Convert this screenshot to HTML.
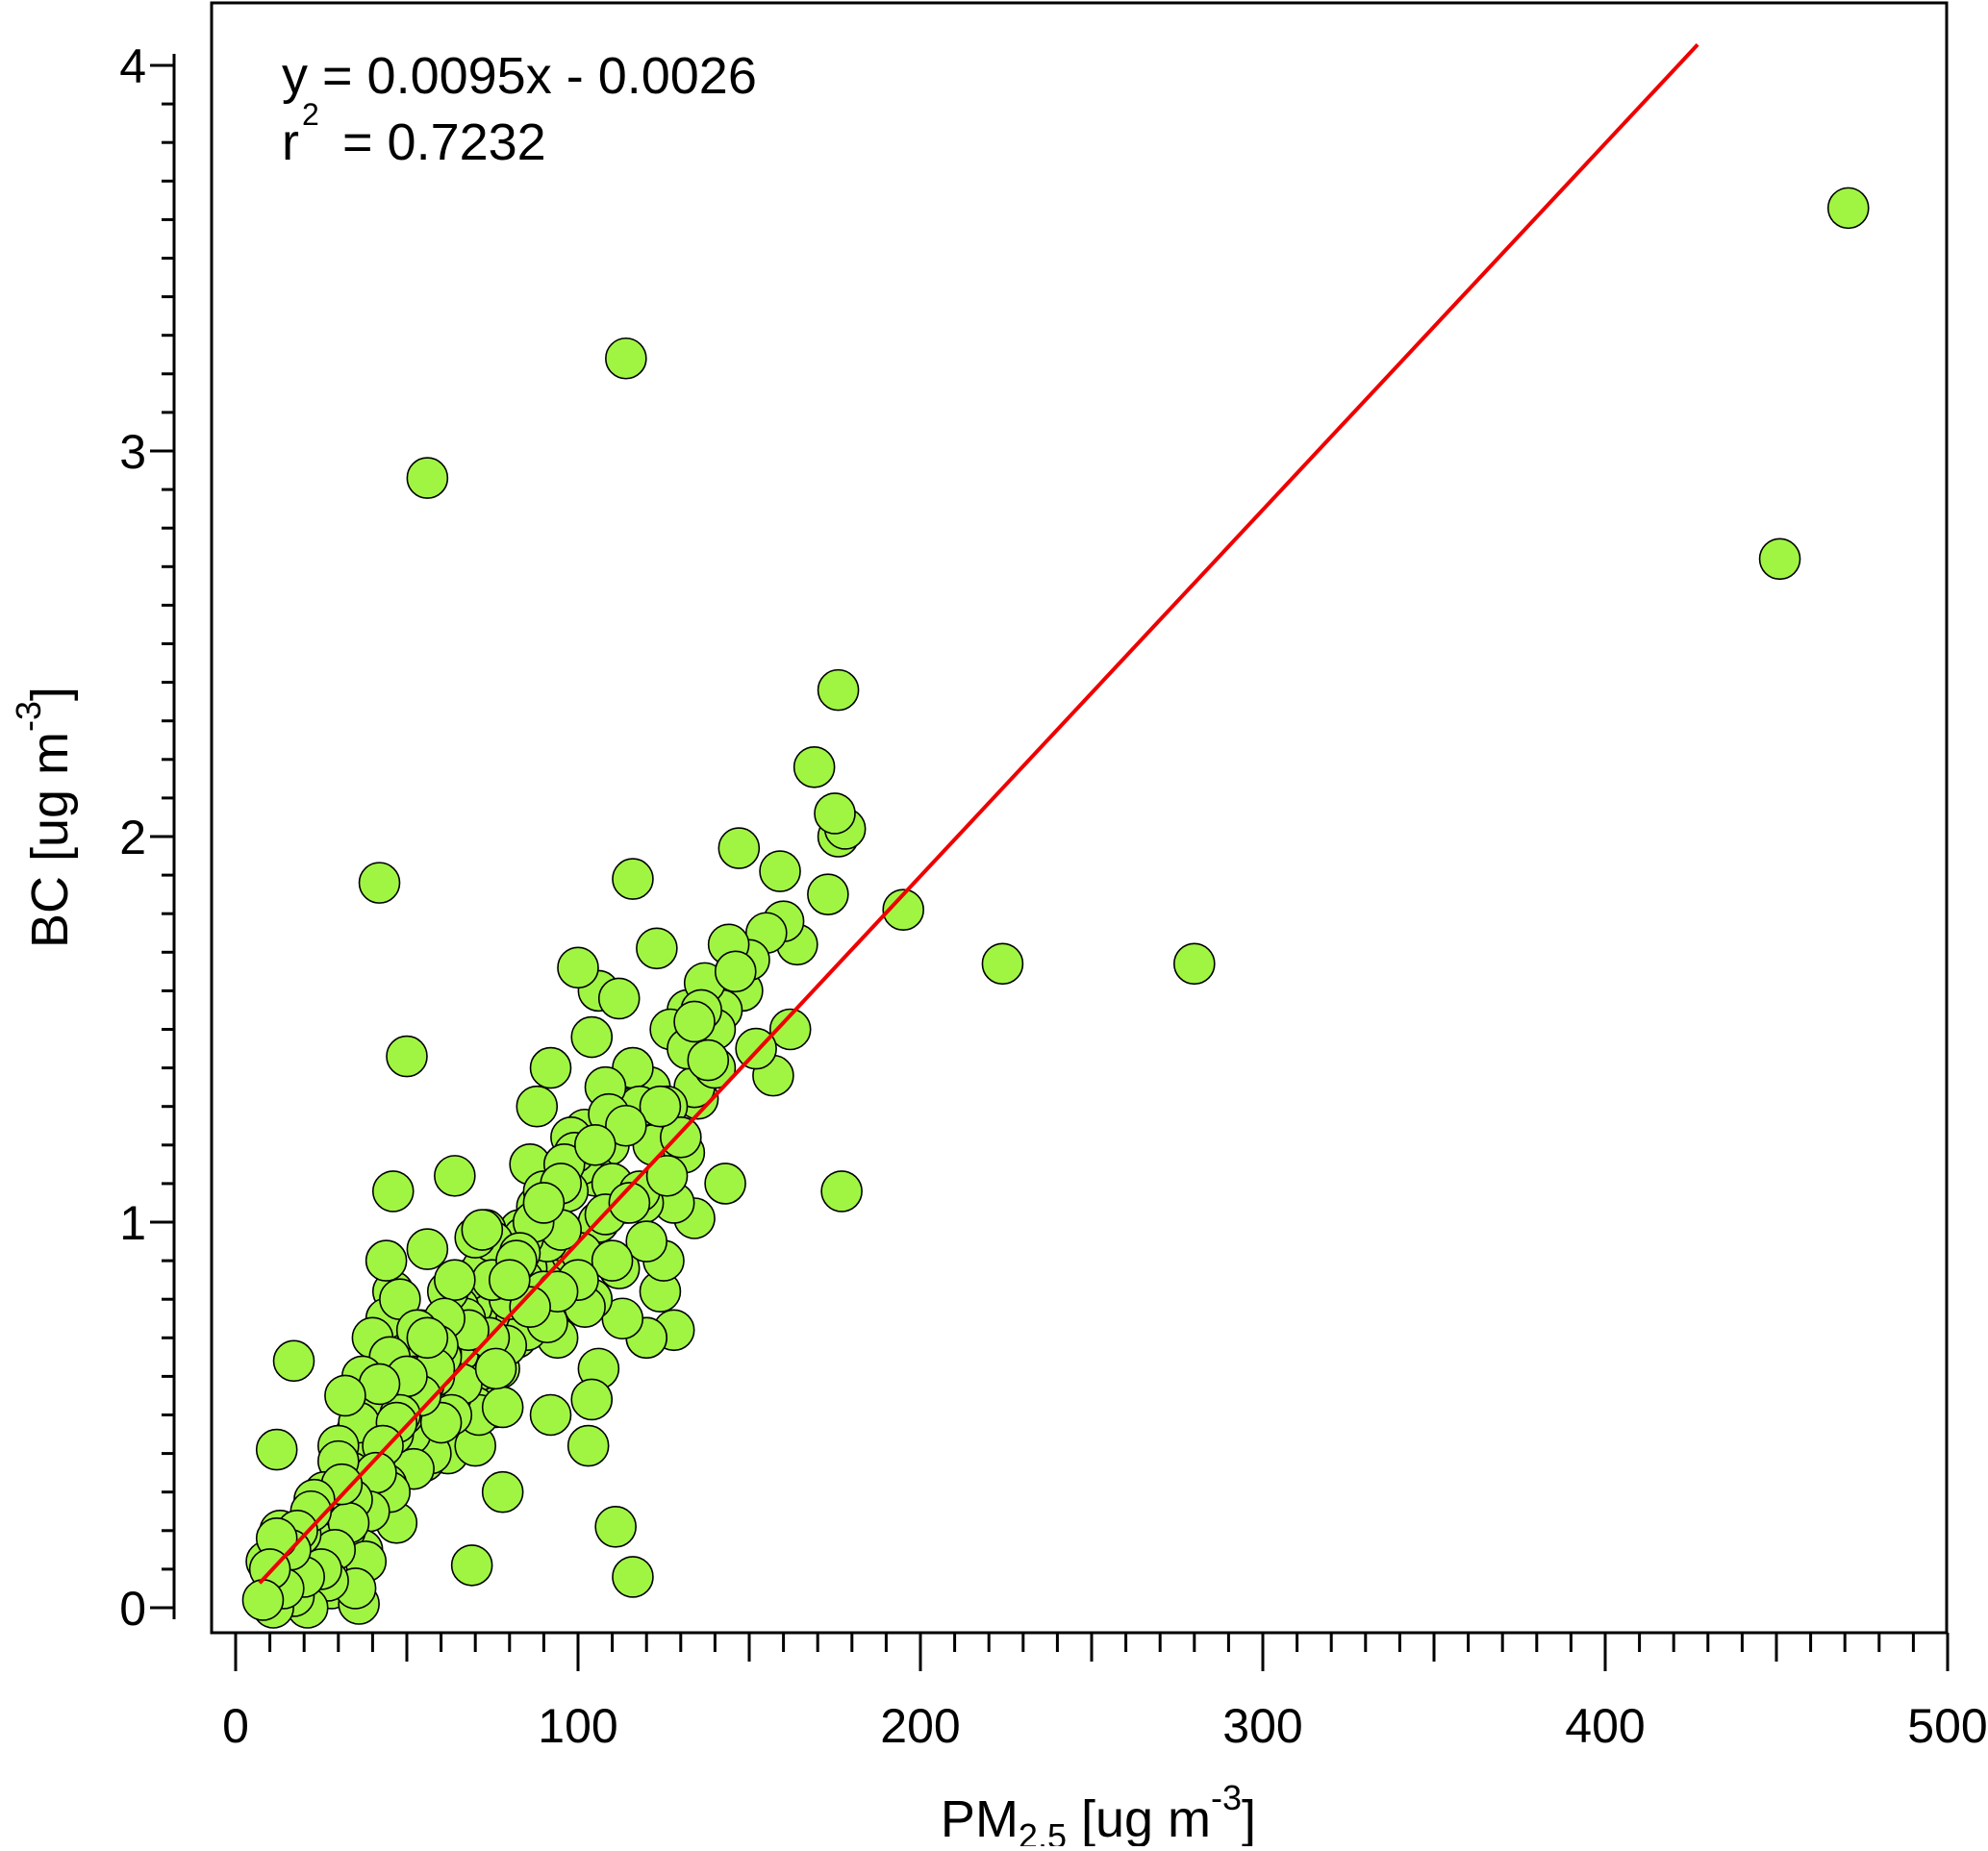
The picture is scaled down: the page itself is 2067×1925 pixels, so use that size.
<!DOCTYPE html>
<html><head><meta charset="utf-8"><style>
html,body{margin:0;padding:0;background:#fff;}
svg text{font-family:"Liberation Sans",Arial,sans-serif;fill:#000;}
</style></head><body>
<svg id="chart" width="2067" height="1920" viewBox="0 0 2067 1920" xmlns="http://www.w3.org/2000/svg">
<g id="points"></g>
<g id="fitline"></g>
<rect x="220" y="3" width="1804" height="1695" fill="none" stroke="#000" stroke-width="3"/>
<g id="axes"></g>
<text x="293" y="97" font-size="54">y = 0.0095x - 0.0026</text>
<text x="293" y="166" font-size="54">r</text>
<text x="356" y="166" font-size="54">= 0.7232</text>
<text x="314" y="130" font-size="32">2</text>
<text x="1142" y="1910" font-size="54" text-anchor="middle">PM<tspan font-size="36" dy="12">2.5</tspan><tspan dy="-12"> [ug m</tspan><tspan font-size="36" dy="-28">-3</tspan><tspan dy="28">]</tspan></text>
<text transform="translate(70,850) rotate(-90)" font-size="54" text-anchor="middle">BC [ug m<tspan font-size="36" dy="-28">-3</tspan><tspan dy="28">]</tspan></text>
</svg>
<script>
const xTicks=[0,100,200,300,400,500];
const yTicks=[0,1,2,3,4];
const fitSlope=0.0095;
const fitIntercept=-0.0026;
const fitRange=[7,427];
const pmValues=[471,451,114,56,176,169,175,178,176,147,159,116,42,173,195,224,280,123,100,50,177,46,17,12,111,116,69,103,
8,10,12,14,16,18,20,22,9,11,13,15,17,19,21,23,25,27,29,31,33,35,36,38,24,26,28,30,32,34,37,39,41,43,45,47,
30,32,34,36,38,40,42,44,46,48,50,52,54,56,58,60,33,35,37,39,41,43,45,47,49,51,53,55,57,59,61,63,
40,44,48,52,56,60,64,68,72,76,80,50,54,58,62,66,70,74,78,82,86,90,94,55,59,63,67,71,75,79,83,87,91,95,
60,65,70,75,80,85,90,95,100,105,110,115,66,72,78,84,90,96,102,108,114,120,126,
64,68,73,77,82,86,91,96,101,106,112,118,124,130,70,76,83,88,94,99,104,109,113,119,125,131,
88,92,98,104,108,112,118,122,128,134,138,96,102,106,110,116,120,126,132,136,140,146,
130,134,140,144,150,155,160,164,137,142,148,152,157,162,127,132,135,143,
36,40,44,46,48,52,62,72,78,84,92,98,104,106,120,124,128,134,
52,57,61,65,69,73,77,81,85,89,93,97,101,105,109,113,117,121,58,66,74,82,90,98,106,114,26,31,36,41,46,51];
const bcValues=[3.63,2.72,3.24,2.93,2.38,2.18,2.06,2.02,2.0,1.97,1.91,1.89,1.88,1.85,1.81,1.67,1.67,1.71,1.66,1.43,1.08,1.08,0.64,0.41,0.21,0.08,0.11,0.42,
0.02,0.1,0.18,0.05,0.15,0.2,0.08,0.25,0.12,0.0,0.2,0.13,0.03,0.19,0.0,0.28,0.1,0.07,0.15,0.32,0.22,0.05,0.01,0.12,
0.17,0.3,0.05,0.38,0.2,0.28,0.15,0.25,0.35,0.42,0.3,0.48,
0.42,0.55,0.35,0.48,0.3,0.4,0.58,0.32,0.45,0.5,0.6,0.36,0.55,0.7,0.62,0.48,0.25,0.45,0.6,0.28,0.52,0.38,0.65,0.22,0.5,0.45,0.72,0.58,0.4,0.68,0.75,0.5,
0.7,0.9,0.8,0.6,0.93,0.65,0.85,0.72,0.98,0.62,0.85,0.48,0.72,0.6,0.82,0.58,0.96,0.7,0.52,0.9,0.78,1.05,0.82,
0.38,0.62,0.55,0.75,0.5,0.85,0.68,0.92,1.0,0.74,1.1,
0.66,0.78,0.52,0.95,0.8,0.72,1.08,0.98,0.85,1.2,0.9,1.05,0.55,0.88,0.68,0.96,0.82,1.15,0.78,1.02,1.25,0.95,1.12,
1.12,0.85,0.98,0.62,0.75,1.15,0.95,0.8,0.92,1.0,0.88,1.08,1.3,1.22,0.42,0.52,0.98,1.04,0.7,1.18,0.8,1.28,0.75,1.05,0.9,1.18,
1.3,1.4,1.22,1.48,1.35,1.58,1.3,1.2,1.05,1.52,1.42,0.95,1.24,1.6,1.1,1.4,0.7,1.3,1.45,1.55,1.4,1.65,
1.22,1.35,1.5,1.72,1.68,1.75,1.78,1.72,1.62,1.55,1.6,1.45,1.38,1.5,1.5,1.55,1.32,1.1,
0.55,0.6,0.75,0.82,0.68,0.72,0.4,0.58,0.3,0.85,0.5,0.92,0.54,0.62,0.7,0.82,0.72,1.01,
0.5,0.62,0.7,0.66,0.78,0.82,0.75,0.9,0.88,0.95,0.92,1.08,1.15,1.12,1.2,1.28,1.3,1.35,0.4,0.55,0.6,0.7,0.8,0.9,1.0,1.05,0.25,0.38,0.48,0.4,0.52,0.62];
const X0=245, XS=3.56, Y0=1672, YS=401;
function xPos(v){return X0+v*XS;}
function yPos(v){return Y0-v*YS;}
const NS='http://www.w3.org/2000/svg';
function mk(tag,attrs,parent){const e=document.createElementNS(NS,tag);for(const k in attrs)e.setAttribute(k,attrs[k]);parent.appendChild(e);return e;}
const pg=document.getElementById('points');
for(let i=pmValues.length-1;i>=0;i--){
  const c=mk('circle',{cx:xPos(pmValues[i]),cy:yPos(bcValues[i]),r:21,fill:'#a0f543',stroke:'#000','stroke-width':1.6},pg);
  
  
}
const fg=document.getElementById('fitline');
const ln=mk('line',{x1:xPos(fitRange[0]),y1:yPos(fitSlope*fitRange[0]+fitIntercept),x2:xPos(fitRange[1]),y2:yPos(fitSlope*fitRange[1]+fitIntercept),stroke:'#ee0000','stroke-width':4},fg);


const ag=document.getElementById('axes');
const ya=mk('line',{x1:181,y1:yPos(yTicks[yTicks.length-1])-12,x2:181,y2:yPos(0)+12,stroke:'#000','stroke-width':3},ag);


for(let v=0;v<=40;v++){
  const major=v%10===0;
  const t=mk('line',{x1:major?156:168,y1:yPos(v/10),x2:181,y2:yPos(v/10),stroke:'#000','stroke-width':3},ag);
  
  
}
yTicks.forEach(v=>{
  const t=mk('text',{x:152,y:yPos(v)+18,'font-size':50,'text-anchor':'end'},ag);
  t.textContent=v;
  
  
});
for(let v=0;v<=500;v+=10){
  const major=v%100===0, mid=v%50===0;
  const t=mk('line',{x1:xPos(v),y1:1698,x2:xPos(v),y2:major?1738:(mid?1728:1718),stroke:'#000','stroke-width':3},ag);
  
  
}
xTicks.forEach(v=>{
  const t=mk('text',{x:xPos(v),y:1812,'font-size':50,'text-anchor':'middle'},ag);
  t.textContent=v;
  
  
});
</script>
</body></html>
